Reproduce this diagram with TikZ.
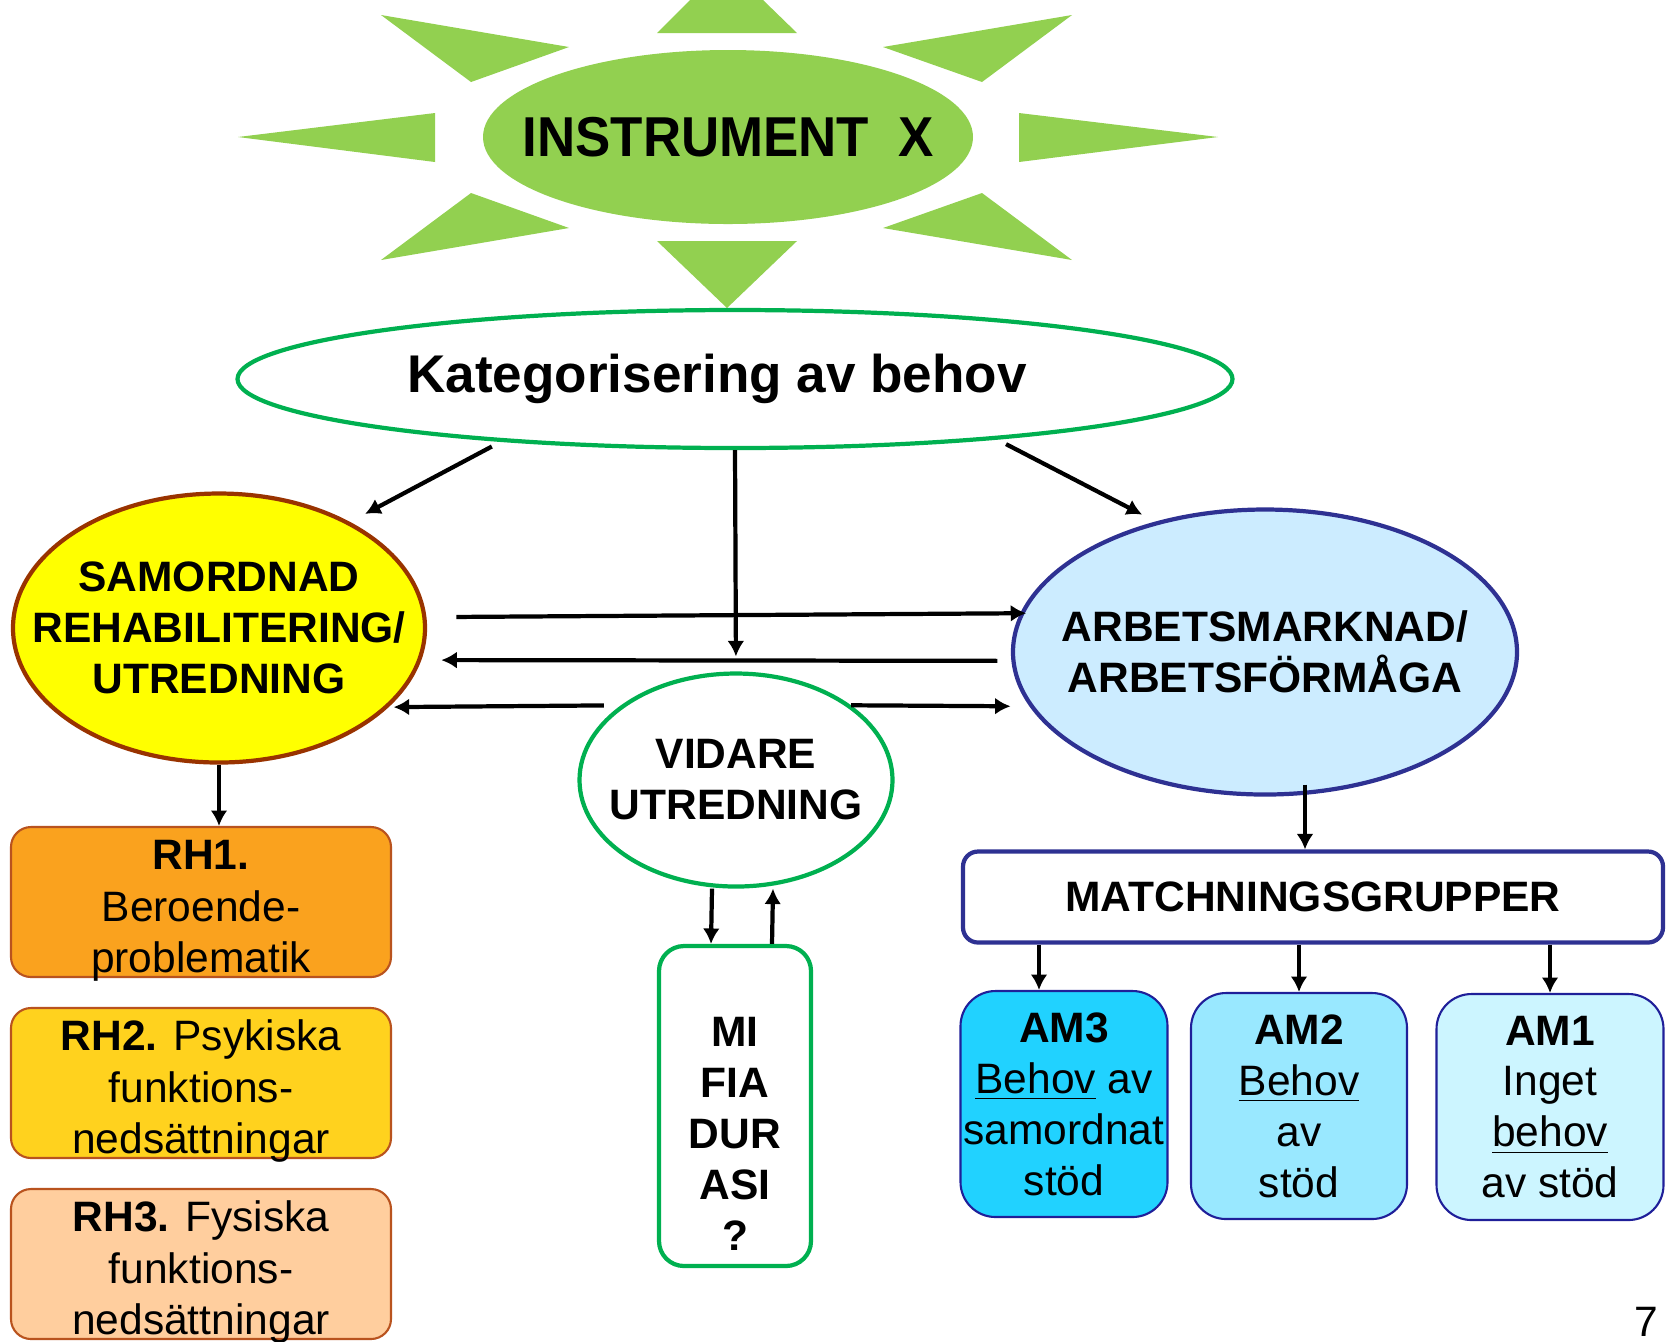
\documentclass[tikz,border=0pt]{standalone}
\usepackage{fontspec}
\setmainfont{Liberation Sans}
\usepackage{graphicx}
\usepackage{tikz}
\usetikzlibrary{shapes.geometric,arrows.meta}
\definecolor{sungreen}{HTML}{92D050}
\definecolor{katgreen}{HTML}{00B050}
\definecolor{samofill}{HTML}{FFFF00}
\definecolor{samoline}{HTML}{993300}
\definecolor{arbfill}{HTML}{CCECFF}
\definecolor{arbline}{HTML}{2E3192}
\definecolor{rhone}{HTML}{FAA21E}
\definecolor{rhtwo}{HTML}{FFD21E}
\definecolor{rhthree}{HTML}{FFCE9E}
\definecolor{rhline}{HTML}{B9531E}
\definecolor{amthree}{HTML}{21D2FF}
\definecolor{amtwo}{HTML}{99E8FF}
\definecolor{amone}{HTML}{CCF5FF}
\definecolor{amline}{HTML}{1F1F99}

\begin{document}
\begin{tikzpicture}[node distance=18.1mm, line width=1.2pt, >={Latex[length=4.4pt,width=4.8pt]},
  font=\fontsize{12.1}{14.5}\selectfont,
  oval/.style={draw, ellipse, line width=1.2pt, inner xsep=-3cm, inner ysep=-1cm, align=center, font=\fontsize{12.1}{14.5}\selectfont\bfseries},
  rhbox/.style={draw=rhline, line width=0.6pt, rounded corners=2mm, minimum width=3.8cm, minimum height=1.5cm, inner sep=0pt, align=center, font=\fontsize{12.1}{14.6}\selectfont, text height=40pt, text depth=0pt},
  ambox/.style={draw=amline, line width=0.6pt, rounded corners=3.5mm, minimum height=2.26cm, inner sep=0pt, align=center}]
\useasboundingbox (0,0) rectangle (16.66,-13.41);

% sun
\fill[sungreen] (6.57,-0.33) -- (7.97,-0.33) -- (7.63,0) -- (6.90,0) -- cycle;
\fill[sungreen] (6.57,-2.41) -- (7.97,-2.41) -- (7.27,-3.08) -- cycle;
\fill[sungreen] (2.38,-1.37) -- (4.35,-1.13) -- (4.35,-1.62) -- cycle;
\fill[sungreen] (12.18,-1.37) -- (10.19,-1.13) -- (10.19,-1.62) -- cycle;
\fill[sungreen] (3.81,-0.15) -- (5.69,-0.47) -- (4.71,-0.82) -- cycle;
\fill[sungreen] (10.72,-0.15) -- (8.83,-0.47) -- (9.82,-0.82) -- cycle;
\fill[sungreen] (4.71,-1.93) -- (5.69,-2.28) -- (3.81,-2.60) -- cycle;
\fill[sungreen] (9.82,-1.93) -- (8.83,-2.28) -- (10.72,-2.60) -- cycle;
\node[ellipse, fill=sungreen, minimum width=4.9cm, minimum height=1.74cm, inner xsep=-3cm, inner ysep=-1cm, font=\fontsize{16}{19}\selectfont\bfseries] (instr) at (7.28,-1.37) {\scalebox{0.94}[1]{INSTRUMENT\hspace{0.55em}X}};

\node[oval, draw=katgreen, minimum width=9.95cm, minimum height=1.38cm, font=\fontsize{15.1}{18}\selectfont\bfseries] (kat) at (7.35,-3.79) {\hspace*{-3.6mm}Kategorisering av behov};
\node[oval, draw=samoline, fill=samofill, minimum width=4.12cm, minimum height=2.69cm] (samo) at (2.19,-6.28) {SAMORDNAD\\REHABILITERING/\\UTREDNING};
\node[oval, draw=arbline, fill=arbfill, minimum width=5.04cm, minimum height=2.85cm] (arb) at (12.65,-6.52) {ARBETSMARKNAD/\\ARBETSFÖRMÅGA};
\node[oval, draw=katgreen, fill=white, minimum width=3.13cm, minimum height=2.13cm] (vid) at (7.36,-7.80) {VIDARE\\UTREDNING};

\node[rhbox, fill=rhone] (rh1) at (2.01,-9.02) {\textbf{RH1.}\\Beroende-\\problematik};
\node[rhbox, fill=rhtwo] (rh2) [below of=rh1] {\textbf{RH2.} Psykiska\\funktions-\\nedsättningar};
\node[rhbox, fill=rhthree] (rh3) [below of=rh2] {\textbf{RH3.} Fysiska\\funktions-\\nedsättningar};

\node[draw=katgreen, line width=1.2pt, rounded corners=2.5mm, minimum width=1.52cm, minimum height=3.2cm, inner sep=0pt, align=center, text height=82pt, font=\fontsize{12.1}{14.5}\selectfont\bfseries] (mi) at (7.35,-11.06) {MI\\FIA\\DUR\\ASI\\?};

\node[draw=arbline, line width=1.2pt, rounded corners=1.5mm, minimum width=7.0cm, minimum height=0.91cm, inner sep=0pt, font=\fontsize{12.1}{14.5}\selectfont\bfseries] (match) at (13.13,-8.97) {MATCHNINGSGRUPPER};
\node[ambox, fill=amthree, minimum width=2.07cm] (am3) at (10.64,-11.04) {\textbf{AM3}\\\underline{Behov} av\\samordnat\\stöd};
\node[ambox, fill=amtwo, minimum width=2.16cm] (am2) at (12.99,-11.06) {\textbf{AM2}\\\underline{Behov}\\av\\stöd};
\node[ambox, fill=amone, minimum width=2.27cm] (am1) at (15.50,-11.07) {\textbf{AM1}\\Inget\\\underline{behov}\\av stöd};

\node (pnum) at (16.46,-13.22) {7};

\draw[->, shorten <=1mm, shorten >=1.7mm] (kat.195) -- (samo.39);
\draw[->, shorten >=1.5mm] (kat.south) -- (vid.north);
\draw[->, shorten <=1mm, shorten >=1.5mm] (kat.-13) -- (arb.130);
\draw[->, shorten <=3mm, shorten >=-0.6mm] (samo.3) -- (arb.171);
\draw[->, shorten <=1.4mm, shorten >=2mm] (arb.182) -- (samo.-9);
\draw[->, shorten <=1.7mm, shorten >=0.5mm] (vid.147) -- (samo.-25);
\draw[->, shorten >=1.9mm] (vid.33) -- (arb.193);
\draw[->] (samo.south) -- (samo.south |- rh1.north);
\draw[->, shorten <=-1.2mm] ([xshift=-0.8mm]arb.south -| match.north) -- ([xshift=-0.8mm]match.north);
\draw[->] ([xshift=-2.4mm]vid.south) -- ([xshift=-2.4mm]mi.north);
\draw[->] ([xshift=3.7mm]mi.north) -- ([xshift=3.7mm]vid.south);
\draw[->] ([xshift=-2.5mm]am3.north |- match.south) -- ([xshift=-2.5mm]am3.north);
\draw[->] (am2.north |- match.south) -- (am2.north);
\draw[->] (am1.north |- match.south) -- (am1.north);
\end{tikzpicture}
\end{document}
